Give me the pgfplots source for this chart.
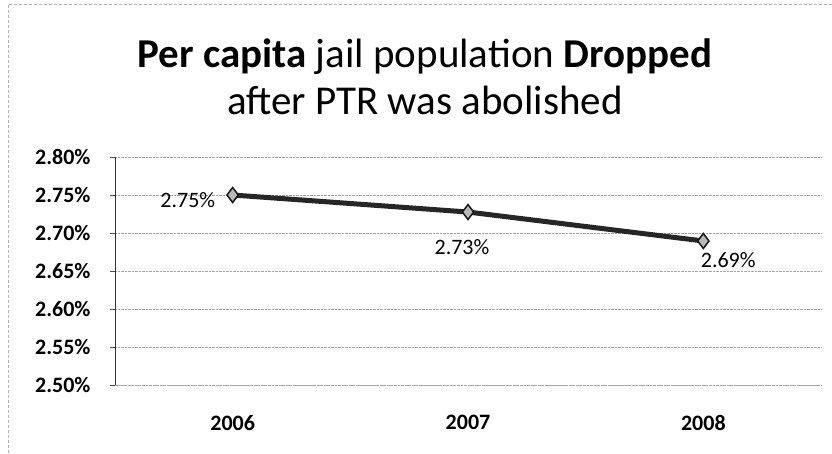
\documentclass[border=0pt]{standalone}
\usepackage{pgfplots}
\pgfplotsset{compat=1.18}
\usepackage{fontspec}
\setmainfont{Carlito}
\definecolor{lineC}{HTML}{262626}
\begin{document}
\begin{tikzpicture}
\useasboundingbox (-115pt,-68pt) rectangle (717pt,385pt);
\draw[gray!60, densely dashed, line width=0.6pt] (-107pt,-68pt) -- (-107pt,381pt) -- (717pt,381pt);
\begin{axis}[
  at={(0pt,0pt)}, anchor=south west,
  scale only axis, width=706pt, height=228pt,
  xmin=-0.5, xmax=2.5, ymin=2.5, ymax=2.8,
  xtick={0,1,2}, xticklabels={\textbf{2006},\textbf{2007},\textbf{2008}},
  ytick={2.5,2.55,2.6,2.65,2.7,2.75,2.8},
  yticklabels={\textbf{2.50\%},\textbf{2.55\%},\textbf{2.60\%},\textbf{2.65\%},\textbf{2.70\%},\textbf{2.75\%},\textbf{2.80\%}},
  ymajorgrids, major grid style={gray!70, densely dotted, line width=0.8pt},
  axis x line*=bottom, axis y line*=left,
  x axis line style={gray!70, densely dotted, line width=0.8pt, -},
  y axis line style={black!80, line width=0.9pt, -},
  xtick style={draw=none},
  ytick style={black!70, line width=0.6pt}, major tick length=5pt,
  tick align=outside,
  ticklabel style={font=\fontsize{22}{26}\selectfont},
  yticklabel style={xshift=-16pt},
  xticklabel style={yshift=-22pt, anchor=north},
  clip=false,
]
\addplot[lineC, line width=5pt, mark=diamond*, mark size=7.5pt,
  mark options={draw=black!90, fill=gray!55, line width=1.5pt}]
  coordinates {(0,2.75) (1,2.7276) (2,2.6895)};
\addplot[draw=none, nodes near coords={2.75\%},
  every node near coord/.append style={anchor=east, xshift=-14pt, yshift=-5pt, font=\fontsize{22}{26}\selectfont}]
  coordinates {(0,2.75)};
\addplot[draw=none, nodes near coords={2.73\%},
  every node near coord/.append style={anchor=north, xshift=-6pt, yshift=-24pt, font=\fontsize{22}{26}\selectfont}]
  coordinates {(1,2.7276)};
\addplot[draw=none, nodes near coords={2.69\%},
  every node near coord/.append style={anchor=north west, xshift=-6pt, yshift=-8pt, font=\fontsize{22}{26}\selectfont}]
  coordinates {(2,2.6895)};
\end{axis}
\node[anchor=base, font=\fontsize{41}{49}\selectfont] at (310pt,317pt)
  {\textbf{Per capita} jail population \textbf{Dropped}};
\node[anchor=base, font=\fontsize{41}{49}\selectfont] at (310pt,270pt)
  {after PTR was abolished};
\end{tikzpicture}
\end{document}
